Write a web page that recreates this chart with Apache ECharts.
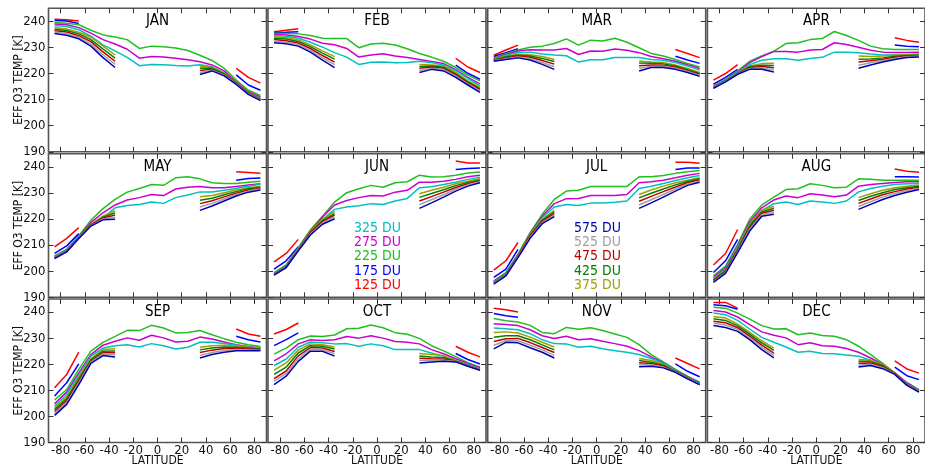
<!DOCTYPE html>
<html>
<head>
<meta charset="utf-8">
<script src="https://cdn.jsdelivr.net/npm/echarts@6/dist/echarts.min.js"></script>
<style>
  html, body { margin: 0; padding: 0; background: #fff; }
  #main { width: 925px; height: 466px; }
</style>
</head>
<body>
<div id="main"></div>
<script>
const _ = null; // no data at this latitude

const lats = [-85, -75, -65, -55, -45, -35, -25, -15, -5, 5, 15, 25, 35, 45, 55, 65, 75, 85];
const xTicks = [-80, -60, -40, -20, 0, 20, 40, 60, 80];
const yTicks = [190, 200, 210, 220, 230, 240];
const months = ['JAN', 'FEB', 'MAR', 'APR', 'MAY', 'JUN', 'JUL', 'AUG', 'SEP', 'OCT', 'NOV', 'DEC'];
const duLabels = ['125 DU', '175 DU', '225 DU', '275 DU', '325 DU', '375 DU', '425 DU', '475 DU', '525 DU', '575 DU'];
const duColors = ['#ff0000', '#0000ff', '#20c020', '#cc00cc', '#00c0c0', '#a0a000', '#008000', '#c00000', '#a0a0a0', '#0000b4'];

// rows in DU order: 125,175,225,275,325,375,425,475,525,575
const JAN = [
  [240.8,240.6,240.1,_,_,_,_,_,_,_,_,_,_,_,_,222.0,218.5,216.3],
  [240.3,240.1,239.2,_,_,_,_,_,_,_,_,_,_,_,_,219.5,215.6,213.6],
  [239.6,239.3,238.7,236.6,234.8,234.0,233.0,229.6,230.5,230.3,229.8,228.8,227.0,225.0,222.0,217.5,213.6,211.6],
  [239.0,238.7,237.6,235.5,233.0,231.3,229.3,225.9,226.5,226.3,225.9,225.3,224.5,223.3,221.0,216.8,213.0,211.0],
  [238.4,238.0,236.8,234.3,231.0,228.7,226.2,223.0,223.5,223.4,223.1,222.9,223.4,222.6,220.2,216.2,212.5,210.6],
  [237.6,237.1,235.8,233.9,230.5,227.1,_,_,_,_,_,_,222.8,222.3,220.1,216.5,212.7,210.4],
  [237.0,236.5,235.2,233.0,229.4,225.9,_,_,_,_,_,_,222.0,222.0,219.9,216.3,212.5,210.2],
  [236.4,235.9,234.5,232.2,228.3,224.7,_,_,_,_,_,_,221.2,221.6,219.6,216.1,212.3,210.0],
  [235.9,235.3,233.9,231.3,227.2,223.5,_,_,_,_,_,_,220.4,221.3,219.4,216.0,212.2,209.8],
  [235.3,234.7,233.3,230.5,226.1,222.3,_,_,_,_,_,_,219.6,221.0,219.1,215.8,212.0,209.6]
];
const FEB = [
  [236.0,236.6,237.2,_,_,_,_,_,_,_,_,_,_,_,_,225.8,222.5,220.4],
  [235.7,235.8,236.0,_,_,_,_,_,_,_,_,_,_,_,_,223.2,220.1,217.8],
  [235.4,235.3,235.2,234.6,233.5,233.4,233.4,229.9,231.3,231.6,230.9,229.5,227.7,226.3,224.7,222.3,219.4,217.2],
  [235.1,234.8,234.2,233.2,231.6,231.0,229.6,226.3,227.1,227.6,226.7,226.1,225.4,224.6,223.8,221.5,218.5,216.0],
  [234.6,234.3,233.5,232.0,230.1,228.0,226.3,223.5,224.3,224.4,224.1,224.2,224.7,224.2,223.3,221.1,218.1,215.3],
  [234.1,233.8,232.9,231.0,228.7,226.5,_,_,_,_,_,_,223.5,223.3,222.9,220.4,217.2,214.7],
  [233.5,233.2,232.3,230.3,227.8,225.5,_,_,_,_,_,_,222.7,222.9,222.4,219.9,216.8,214.2],
  [233.0,232.6,231.7,229.6,226.9,224.4,_,_,_,_,_,_,222.0,222.5,222.0,219.5,216.4,213.8],
  [232.4,232.0,231.1,228.9,226.0,223.4,_,_,_,_,_,_,221.2,222.0,221.5,219.0,216.0,213.3],
  [231.8,231.4,230.5,228.2,225.1,222.3,_,_,_,_,_,_,220.4,221.6,221.0,218.5,215.6,212.8]
];
const MAR = [
  [227.0,229.0,230.9,_,_,_,_,_,_,_,_,_,_,_,_,229.2,227.7,226.1],
  [226.5,228.0,229.5,_,_,_,_,_,_,_,_,_,_,_,_,226.6,225.2,223.9],
  [225.9,227.6,229.0,230.1,230.5,231.5,233.3,230.9,232.8,232.5,233.5,232.0,229.9,227.7,226.7,225.4,223.9,222.5],
  [225.7,227.3,228.6,229.1,229.0,229.0,229.6,227.3,228.6,228.5,229.4,228.9,228.0,226.5,225.7,224.7,223.4,221.9],
  [225.4,227.0,228.0,228.2,227.5,227.1,226.8,224.4,225.3,225.3,226.1,226.1,226.1,225.4,225.1,224.2,222.9,221.3],
  [225.4,226.7,227.3,227.2,226.5,225.4,_,_,_,_,_,_,224.8,224.4,224.2,223.3,221.9,220.4],
  [225.2,226.4,227.0,226.7,225.8,224.6,_,_,_,_,_,_,224.0,223.9,223.7,222.9,221.5,220.0],
  [225.0,226.0,226.7,226.2,225.0,223.6,_,_,_,_,_,_,223.0,223.3,223.2,222.5,221.1,219.7],
  [224.9,225.7,226.3,225.7,224.2,222.6,_,_,_,_,_,_,222.0,222.8,222.8,222.0,220.8,219.3],
  [224.7,225.4,226.0,225.2,223.5,221.6,_,_,_,_,_,_,221.0,222.3,222.3,221.6,220.4,218.9]
];
const APR = [
  [217.5,220.0,223.4,_,_,_,_,_,_,_,_,_,_,_,_,233.7,232.7,232.0],
  [215.9,218.5,221.6,_,_,_,_,_,_,_,_,_,_,_,_,230.9,230.5,230.3],
  [215.1,217.8,221.0,224.7,226.7,228.6,231.5,231.8,233.0,233.4,236.1,234.6,232.7,230.5,229.5,229.2,229.2,229.2],
  [214.9,217.6,220.6,224.2,226.5,228.4,228.4,228.2,229.0,229.2,231.8,231.1,230.1,228.9,228.2,228.1,228.1,228.2],
  [214.8,217.5,220.4,223.4,225.1,225.7,225.7,225.1,225.8,226.2,228.2,228.2,228.0,227.5,227.1,227.1,227.2,227.5],
  [214.6,217.2,220.1,222.9,223.8,223.9,_,_,_,_,_,_,226.7,226.5,226.7,227.0,227.2,227.3],
  [214.5,217.1,220.0,222.6,223.2,223.1,_,_,_,_,_,_,225.5,225.6,226.0,226.6,226.9,227.0],
  [214.5,217.0,219.9,222.2,222.7,222.2,_,_,_,_,_,_,224.4,224.9,225.5,226.2,226.6,226.8],
  [214.4,216.9,219.8,221.9,222.1,221.4,_,_,_,_,_,_,223.2,224.1,224.9,225.8,226.4,226.6],
  [214.3,216.8,219.7,221.6,221.6,220.6,_,_,_,_,_,_,222.0,223.3,224.4,225.4,226.1,226.3]
];
const MAY = [
  [209.3,212.6,216.7,_,_,_,_,_,_,_,_,_,_,_,_,238.1,237.8,237.5],
  [206.8,209.7,214.4,_,_,_,_,_,_,_,_,_,_,_,_,234.9,235.5,235.7],
  [205.9,208.4,213.5,219.5,224.0,227.5,230.3,231.7,233.2,232.9,235.8,236.2,235.4,233.9,233.6,233.6,234.1,234.5],
  [205.7,208.3,213.4,218.6,222.4,225.4,227.3,228.2,229.4,229.0,231.5,232.2,232.5,232.0,232.0,232.5,233.0,233.5],
  [205.6,208.2,213.2,217.7,220.5,224.3,225.2,225.6,226.5,226.0,228.2,229.2,230.4,230.4,231.0,231.7,232.6,233.3],
  [205.2,207.8,212.9,217.9,221.1,223.1,_,_,_,_,_,_,228.5,229.0,230.1,231.1,232.0,232.6],
  [205.1,207.7,212.8,217.7,220.7,222.3,_,_,_,_,_,_,227.2,228.0,229.3,230.5,231.6,232.2],
  [205.0,207.6,212.7,217.6,220.4,221.5,_,_,_,_,_,_,225.9,227.0,228.5,229.9,231.1,231.8],
  [204.9,207.5,212.6,217.4,220.0,220.7,_,_,_,_,_,_,224.6,226.0,227.7,229.4,230.7,231.5],
  [204.8,207.4,212.5,217.3,219.7,219.9,_,_,_,_,_,_,223.3,225.0,226.9,228.8,230.3,231.1]
];
const JUN = [
  [203.6,206.8,212.2,_,_,_,_,_,_,_,_,_,_,_,_,242.2,241.5,241.5],
  [200.8,204.0,209.4,_,_,_,_,_,_,_,_,_,_,_,_,239.0,239.4,239.6],
  [199.5,202.4,209.0,215.8,221.1,226.5,230.1,231.6,232.9,232.2,233.9,234.3,236.8,236.1,236.2,236.8,237.6,238.0],
  [199.2,202.0,208.8,215.4,220.8,225.4,227.1,228.2,229.0,228.8,230.3,231.0,234.1,234.1,234.5,235.2,236.2,236.8],
  [199.1,201.9,208.7,215.0,219.9,223.7,224.6,225.1,225.9,225.6,226.9,227.9,232.0,232.4,233.2,234.1,235.2,236.0],
  [198.9,201.7,208.4,215.2,219.9,222.8,_,_,_,_,_,_,229.7,231.0,232.2,233.5,234.5,235.4],
  [198.8,201.6,208.2,214.9,219.4,222.1,_,_,_,_,_,_,228.3,229.8,231.2,232.8,234.0,235.0],
  [198.7,201.5,208.1,214.5,219.0,221.5,_,_,_,_,_,_,226.9,228.6,230.3,232.1,233.5,234.6],
  [198.6,201.5,207.9,214.2,218.5,220.8,_,_,_,_,_,_,225.5,227.4,229.3,231.4,233.1,234.3],
  [198.5,201.4,207.8,213.9,218.0,220.1,_,_,_,_,_,_,224.1,226.2,228.4,230.7,232.6,233.9]
];
const JUL = [
  [200.4,204.0,211.0,_,_,_,_,_,_,_,_,_,_,_,_,241.8,241.8,241.4],
  [197.6,200.8,208.4,_,_,_,_,_,_,_,_,_,_,_,_,239.0,239.6,239.6],
  [196.3,199.5,206.5,214.8,221.8,227.5,230.7,231.0,232.5,232.5,232.5,232.5,236.2,236.2,236.7,237.5,238.1,238.6],
  [196.1,199.1,206.2,214.4,221.1,225.9,227.8,227.9,229.0,229.0,229.0,229.4,233.9,234.3,234.9,235.8,236.8,237.5],
  [195.9,198.9,206.0,214.1,220.5,224.6,225.6,225.2,226.1,226.1,226.4,226.9,231.7,232.6,233.6,234.8,235.8,236.7],
  [195.7,198.6,205.9,214.1,219.9,223.3,_,_,_,_,_,_,229.4,231.1,232.6,233.9,234.9,235.8],
  [195.5,198.5,205.7,213.7,219.5,222.7,_,_,_,_,_,_,228.1,229.9,231.5,233.1,234.4,235.4],
  [195.4,198.4,205.6,213.4,219.1,222.1,_,_,_,_,_,_,226.8,228.7,230.5,232.3,233.9,235.0],
  [195.2,198.3,205.4,213.0,218.6,221.5,_,_,_,_,_,_,225.4,227.4,229.4,231.5,233.4,234.5],
  [195.0,198.2,205.2,212.6,218.2,220.9,_,_,_,_,_,_,224.1,226.2,228.4,230.7,232.9,234.1]
];
const AUG = [
  [202.4,206.8,216.0,_,_,_,_,_,_,_,_,_,_,_,_,239.2,238.3,237.9],
  [199.5,204.0,212.2,_,_,_,_,_,_,_,_,_,_,_,_,236.2,236.2,236.1],
  [198.2,202.0,210.3,219.9,225.4,228.4,231.3,231.6,233.5,232.9,232.0,232.2,235.4,235.2,234.9,234.9,234.9,234.9],
  [197.6,201.4,209.7,219.0,224.3,227.3,228.8,228.2,229.7,229.2,228.5,229.2,232.6,233.2,233.6,234.0,234.3,234.3],
  [197.2,200.8,209.3,218.2,223.3,225.9,226.5,225.6,226.9,226.5,226.0,226.9,230.4,231.7,232.6,233.2,233.5,233.6],
  [196.9,200.5,208.8,218.0,223.3,224.9,_,_,_,_,_,_,228.2,229.7,231.0,232.0,232.6,233.0],
  [196.6,200.2,208.4,217.4,222.7,224.1,_,_,_,_,_,_,227.1,228.7,230.1,231.3,232.0,232.6],
  [196.3,199.9,208.0,216.7,222.2,223.4,_,_,_,_,_,_,226.0,227.7,229.3,230.5,231.5,232.2],
  [196.0,199.5,207.5,216.1,221.6,222.6,_,_,_,_,_,_,224.8,226.6,228.4,229.8,230.9,231.7],
  [195.7,199.2,207.1,215.4,221.1,221.8,_,_,_,_,_,_,223.7,225.6,227.5,229.0,230.3,231.3]
];
const SEP = [
  [211.0,216.1,224.6,_,_,_,_,_,_,_,_,_,_,_,_,233.5,231.6,230.7],
  [207.8,212.9,220.1,_,_,_,_,_,_,_,_,_,_,_,_,230.7,229.4,228.5],
  [206.3,210.3,218.0,225.0,228.4,230.7,233.0,232.9,234.9,233.9,232.0,232.2,232.9,231.3,229.8,228.4,227.5,226.8],
  [204.8,209.3,216.7,223.7,227.3,228.8,230.1,229.2,231.1,230.1,228.5,228.8,230.4,229.7,228.5,227.5,226.8,226.2],
  [203.9,208.4,215.8,223.1,226.2,227.1,227.5,226.6,227.9,227.1,225.8,226.5,228.4,228.4,227.9,227.3,226.6,226.2],
  [203.3,207.4,215.0,222.2,225.6,225.9,_,_,_,_,_,_,226.5,227.1,227.3,226.9,226.5,226.0],
  [202.6,206.7,214.3,221.7,225.0,225.1,_,_,_,_,_,_,225.5,226.2,226.6,226.5,226.2,225.8],
  [201.9,206.0,213.6,221.2,224.4,224.4,_,_,_,_,_,_,224.5,225.4,226.0,226.0,225.8,225.6],
  [201.2,205.3,212.9,220.8,223.9,223.6,_,_,_,_,_,_,223.4,224.5,225.3,225.6,225.5,225.4],
  [200.4,204.6,212.2,220.3,223.3,222.8,_,_,_,_,_,_,222.4,223.7,224.6,225.2,225.2,225.2]
];
const OCT = [
  [231.6,233.3,235.8,_,_,_,_,_,_,_,_,_,_,_,_,226.9,224.6,222.8],
  [227.1,229.4,232.0,_,_,_,_,_,_,_,_,_,_,_,_,224.1,221.8,220.1],
  [223.9,226.2,229.4,230.8,230.6,231.2,233.6,233.8,235.0,234.0,232.1,231.5,229.9,227.1,225.1,222.9,220.6,218.9],
  [221.3,224.0,227.8,229.4,229.1,229.4,230.6,230.0,230.9,230.0,228.7,228.4,227.8,225.6,224.0,222.1,220.3,218.7],
  [219.5,222.0,226.5,228.5,228.2,227.8,227.9,226.9,227.8,227.1,225.6,225.6,225.6,224.3,223.1,221.4,219.9,218.2],
  [217.7,220.5,225.4,227.8,227.5,226.6,_,_,_,_,_,_,224.1,223.7,223.3,221.4,219.5,218.0],
  [216.1,218.9,224.3,227.1,226.9,225.8,_,_,_,_,_,_,223.2,222.8,222.6,221.2,219.4,217.9],
  [214.5,217.4,223.2,226.4,226.2,224.9,_,_,_,_,_,_,222.3,222.1,222.0,221.1,219.4,217.8],
  [213.5,216.4,222.1,225.7,225.6,224.0,_,_,_,_,_,_,221.4,221.5,221.5,221.0,219.3,217.8],
  [212.2,215.4,221.1,225.0,225.0,223.1,_,_,_,_,_,_,220.5,220.9,221.1,220.9,219.2,217.7]
];
const NOV = [
  [241.5,240.9,240.0,_,_,_,_,_,_,_,_,_,_,_,_,222.4,220.3,218.2],
  [239.4,238.6,238.0,_,_,_,_,_,_,_,_,_,_,_,_,220.1,217.3,215.2],
  [237.5,236.7,236.2,234.9,232.2,231.7,234.1,233.4,234.0,232.9,231.6,230.3,227.5,223.7,220.9,218.0,215.4,213.1],
  [235.5,235.2,234.8,233.2,230.9,229.9,230.7,229.4,229.8,228.8,227.9,226.9,225.2,222.8,220.5,217.7,215.1,212.9],
  [233.9,233.6,233.2,231.7,229.4,227.9,227.8,226.5,226.9,225.9,225.2,224.6,223.7,222.2,220.3,217.6,214.8,212.6],
  [232.2,232.4,232.0,230.4,228.4,226.6,_,_,_,_,_,_,222.2,221.4,219.9,217.3,214.8,212.2],
  [230.3,230.9,230.9,229.4,227.4,225.5,_,_,_,_,_,_,221.4,220.8,219.6,217.2,214.7,212.2],
  [228.7,229.8,229.9,228.3,226.4,224.5,_,_,_,_,_,_,220.6,220.3,219.3,217.1,214.6,212.2],
  [227.3,229.0,229.0,227.3,225.5,223.4,_,_,_,_,_,_,219.8,219.7,218.9,217.0,214.5,212.2],
  [225.9,228.4,228.2,226.3,224.6,222.4,_,_,_,_,_,_,219.0,219.2,218.6,216.9,214.4,212.2]
];
const DEC = [
  [243.7,243.7,241.5,_,_,_,_,_,_,_,_,_,_,_,_,221.3,218.2,216.6],
  [242.8,242.4,241.1,_,_,_,_,_,_,_,_,_,_,_,_,218.9,215.6,214.1],
  [241.8,241.5,239.6,237.3,234.8,233.5,233.6,231.3,232.0,231.0,230.7,229.4,226.9,223.7,220.3,216.7,212.9,210.3],
  [240.6,240.0,238.1,235.2,232.4,231.1,230.1,227.5,228.2,227.1,226.9,226.0,224.6,222.4,219.9,216.7,212.9,210.1],
  [239.6,239.0,236.8,233.5,230.3,228.4,226.6,224.6,225.0,224.1,224.0,223.5,223.1,221.5,219.5,216.3,212.5,210.0],
  [238.3,237.7,235.4,232.2,229.0,226.2,_,_,_,_,_,_,221.8,221.5,219.9,216.7,212.5,209.7],
  [237.4,236.8,234.7,231.5,228.2,225.3,_,_,_,_,_,_,221.1,221.0,219.5,216.5,212.4,209.6],
  [236.5,235.9,234.0,230.8,227.3,224.3,_,_,_,_,_,_,220.4,220.5,219.1,216.4,212.2,209.5],
  [235.7,235.0,233.3,230.1,226.5,223.4,_,_,_,_,_,_,219.6,220.0,218.7,216.2,212.1,209.4],
  [234.8,234.1,232.6,229.4,225.6,222.4,_,_,_,_,_,_,218.9,219.5,218.3,216.1,211.9,209.3]
];
const monthData = [JAN, FEB, MAR, APR, MAY, JUN, JUL, AUG, SEP, OCT, NOV, DEC];

const FONT = "'DejaVu Sans Condensed', 'DejaVu Sans', sans-serif";
const colLeft = [48.5, 268, 487.7, 707.4];
const rowTop = [8.3, 153.8, 299];
const panelW = 218, panelH = 143.5;

var grids = [], xAxes = [], yAxes = [], series = [], graphics = [];

months.forEach(function (name, m) {
  var r = Math.floor(m / 4), c = m % 4;
  grids.push({
    left: colLeft[c], top: rowTop[r], width: panelW, height: panelH,
    show: true, borderColor: '#555', borderWidth: 1.6, backgroundColor: 'transparent'
  });
  ['bottom', 'top'].forEach(function (pos) {
    xAxes.push({
      type: 'value', gridIndex: m, position: pos, min: -90, max: 90,
      axisLine: { show: false, onZero: false }, splitLine: { show: false },
      axisTick: { inside: true, length: 5, customValues: xTicks, lineStyle: { color: '#333' } },
      axisLabel: {
        show: pos === 'bottom' && r === 2, customValues: xTicks, margin: 2,
        fontSize: 13, fontFamily: FONT, color: '#111'
      }
    });
  });
  ['left', 'right'].forEach(function (pos) {
    yAxes.push({
      type: 'value', gridIndex: m, position: pos, min: 190, max: 245,
      axisLine: { show: false, onZero: false }, splitLine: { show: false },
      axisTick: { inside: true, length: 5, customValues: yTicks, lineStyle: { color: '#333' } },
      axisLabel: {
        show: pos === 'left' && c === 0, customValues: yTicks, margin: 3,
        fontSize: 13, fontFamily: FONT, color: '#111'
      }
    });
  });

  monthData[m].forEach(function (row, k) {
    series.push({
      type: 'line', xAxisIndex: 2 * m, yAxisIndex: 2 * m,
      showSymbol: false, silent: true,
      lineStyle: { color: duColors[k], width: 1.5 },
      data: lats.map(function (lat, i) { return [lat, row[i] === null ? '-' : row[i]]; })
    });
  });

  graphics.push({
    type: 'text', x: colLeft[c] + panelW / 2, y: rowTop[r] + 13,
    style: { text: name, fontSize: 15, fontFamily: FONT, fill: '#000', textAlign: 'center', textVerticalAlign: 'middle' }
  });
});

// y axis names
rowTop.forEach(function (t) {
  graphics.push({
    type: 'text', x: 19, y: t + panelH / 2, rotation: Math.PI / 2,
    style: { text: 'EFF O3 TEMP [K]', fontSize: 12, fontFamily: FONT, fill: '#111', textAlign: 'center', textVerticalAlign: 'middle' }
  });
});
// x axis names
colLeft.forEach(function (l) {
  graphics.push({
    type: 'text', x: l + panelW / 2, y: 461,
    style: { text: 'LATITUDE', fontSize: 12, fontFamily: FONT, fill: '#111', textAlign: 'center', textVerticalAlign: 'middle' }
  });
});

// in-panel legends (JUN and JUL)
var legendSets = [
  { x: 354, items: [4, 3, 2, 1, 0] },
  { x: 574, items: [9, 8, 7, 6, 5] }
];
legendSets.forEach(function (set) {
  set.items.forEach(function (k, j) {
    graphics.push({
      type: 'text', x: set.x, y: 228 + j * 14.3,
      style: { text: duLabels[k], fontSize: 14, fontFamily: FONT, fill: duColors[k], textAlign: 'left', textVerticalAlign: 'middle' }
    });
  });
});

var chart = echarts.init(document.getElementById('main'), null, { renderer: 'canvas' });
chart.setOption({
  animation: false,
  backgroundColor: '#fff',
  grid: grids,
  xAxis: xAxes,
  yAxis: yAxes,
  series: series,
  graphic: graphics
});
</script>
</body>
</html>
